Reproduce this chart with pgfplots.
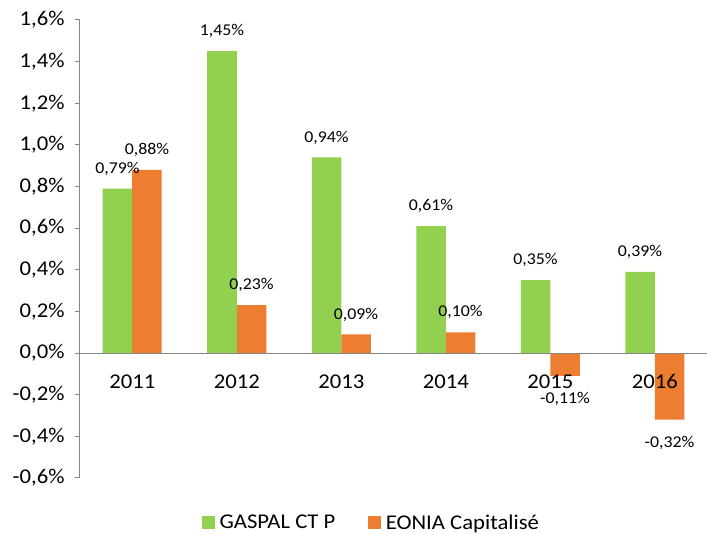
\documentclass[border=0pt]{standalone}
\usepackage{pgfplots}
\pgfplotsset{compat=1.18}
\usepackage{fontspec}
\setmainfont{Carlito}[FakeStretch=1.08]
\definecolor{gr}{HTML}{92D050}
\definecolor{orng}{HTML}{ED7D31}
\definecolor{axgray}{HTML}{868686}
\begin{document}
\begin{tikzpicture}
\useasboundingbox (-80pt,-57pt) rectangle (627pt,478pt);
\begin{axis}[
  at={(0,0)}, anchor=south west,
  width=627pt, height=458pt, scale only axis,
  xmin=0.5, xmax=6.5, ymin=-0.6, ymax=1.6,
  axis x line=middle, axis y line=left,
  axis line style={-, axgray, line width=1pt},
  axis on top,
  ybar=0pt, bar width=29.5pt,
  xtick={1,2,3,4,5,6},
  xticklabels={2011,2012,2013,2014,2015,2016},
  x tick style={draw=none},
  extra x ticks={1.5,2.5,3.5,4.5,5.5},
  extra x tick labels={},
  extra x tick style={tick align=outside, major tick length=7pt, draw=axgray, line width=1pt},
  xticklabel style={font=\fontsize{21}{25}\selectfont, yshift=-13pt},
  ytick={-0.6,-0.4,-0.2,0,0.2,0.4,0.6,0.8,1.0,1.2,1.4,1.6},
  y tick style={axgray, line width=1pt},
  tick align=outside, major tick length=5pt,
  yticklabel={\pgfmathprintnumber[fixed,fixed zerofill,precision=1,use comma]{\tick}\%},
  yticklabel style={font=\fontsize{21}{25}\selectfont, xshift=-7pt},
  /pgf/number format/assume math mode=true,
  visualization depends on={y \as \rawy},
  nodes near coords={\pgfmathprintnumber[fixed,fixed zerofill,precision=2,use comma,assume math mode=true]{\pgfplotspointmeta}\%},
  nodes near coords align=vertical,
  every node near coord/.append style={font=\fontsize{16.5}{19}\selectfont, inner ysep=13pt, text=black,
    yshift={ifthenelse(\rawy<0,-3,0)}},
  legend style={draw=none, at={(axis description cs:0.465,-0.098)}, anchor=center,
    legend columns=2, font=\fontsize{21}{25}\selectfont,
    /tikz/every odd column/.append style={column sep=2.5pt},
    /tikz/every even column/.append style={column sep=31pt}},
  clip=false,
]
\addplot[fill=gr, draw=none,
  legend image code/.code={\fill[gr] (0pt,-6.5pt) rectangle (13pt,6.5pt);}]
  coordinates {(1,0.79) (2,1.45) (3,0.94) (4,0.61) (5,0.35) (6,0.39)};
\addlegendentry{GASPAL CT P}
\addplot[fill=orng, draw=none,
  legend image code/.code={\fill[orng] (0pt,-6.5pt) rectangle (13pt,6.5pt);}]
  coordinates {(1,0.88) (2,0.23) (3,0.09) (4,0.10) (5,-0.11) (6,-0.32)};
\addlegendentry{EONIA Capitalisé}
\end{axis}
\end{tikzpicture}
\end{document}
